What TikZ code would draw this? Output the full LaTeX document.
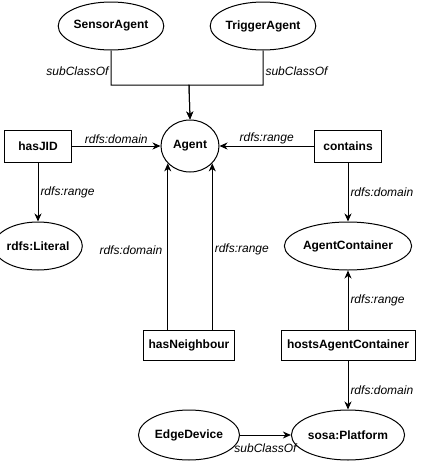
\documentclass[tikz,border=0pt]{standalone}
\usepackage{fontspec}
\setmainfont{Liberation Sans}
\usepackage{tikz}
\usetikzlibrary{arrows.meta,calc,positioning,shapes.geometric}

\begin{document}
\begin{tikzpicture}[x=1pt,y=-1pt,>={Stealth[length=8pt,width=7pt,inset=2.5pt]},
    cls/.style={ellipse,draw,line width=1pt,inner sep=0pt,font=\fontsize{12}{14}\selectfont\bfseries},
    prop/.style={rectangle,draw,line width=1pt,inner sep=0pt,font=\fontsize{12}{14}\selectfont\bfseries},
    lbl/.style={font=\fontsize{12}{14}\selectfont\itshape,inner sep=2pt},
    conn/.style={line width=1pt}]
        \useasboundingbox (0,0) rectangle (425,461);
        \node[cls,minimum width=94pt,minimum height=48pt] (sensor) at (111,26) {SensorAgent};
        \node[cls,minimum width=93pt,minimum height=48pt] (trigger) at (263,26) {TriggerAgent};
        \node[cls,minimum width=58pt,minimum height=52pt] (agent) at (190,146) {Agent};
        \node[prop,minimum width=67pt,minimum height=32pt] (hasjid) at (38,146) {hasJID};
        \node[prop,minimum width=67pt,minimum height=32pt] (contains) at (348,146) {contains};
        \node[cls,minimum width=74pt,minimum height=48pt] (literal) at (38,246) {rdfs:Literal};
        \node[cls,minimum width=94pt,minimum height=48pt] (container) at (348,246) {AgentContainer};
        \node[prop,minimum width=91pt,minimum height=30pt] (neigh) at (189,345) {hasNeighbour};
        \node[prop,minimum width=134pt,minimum height=30pt] (hosts) at (348,345) {hostsAgentContainer};
        \node[cls,minimum width=101pt,minimum height=50pt] (edge) at (189,435) {EdgeDevice};
        \node[cls,minimum width=99pt,minimum height=50pt] (platform) at (348,435) {sosa:Platform};
        \coordinate (join) at (189,85);
        \draw[->,conn] (sensor.south) |- node[lbl,pos=0.3,left] {subClassOf} (join) -- (agent.north);
        \draw[->,conn] (trigger.south) |- node[lbl,pos=0.3,right] {subClassOf} (join) -- (agent.north);
        \draw[->,conn] (hasjid.east) -- node[lbl,above] {rdfs:domain} (agent.west);
        \draw[->,conn] (contains.west) -- node[lbl,above] {rdfs:range} (agent.east);
        \draw[->,conn] (hasjid.south) -- node[lbl,right] {rdfs:range} (literal.north);
        \draw[->,conn] (contains.south) -- node[lbl,right] {rdfs:domain} (container.north);
        \draw[->,conn] (agent.218 |- neigh.north) -- node[lbl,pos=0.48,left=3pt] {rdfs:domain} (agent.218);
        \draw[->,conn] (agent.322 |- neigh.north) -- node[lbl,pos=0.48,right] {rdfs:range} (agent.322);
        \draw[->,conn] (hosts.north) -- node[lbl,right] {rdfs:range} (container.south);
        \draw[->,conn] (hosts.south) -- node[lbl,pos=0.6,right] {rdfs:domain} (platform.north);
        \draw[->,conn] (edge.east) -- node[lbl,below=6pt] {subClassOf} (platform.west);
      \end{tikzpicture}
\end{document}
